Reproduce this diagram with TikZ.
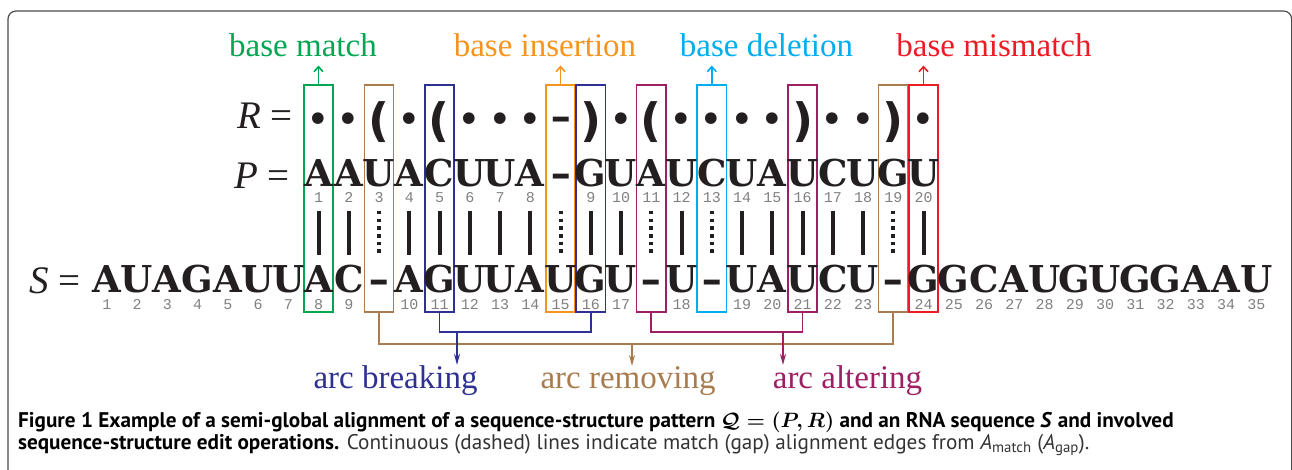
\documentclass[tikz,border=0pt]{standalone}
\usepackage{fontspec}
\setmainfont{Liberation Serif}
\newfontfamily\seqfont{DejaVu Serif}
\newfontfamily\numfont{Liberation Mono}
\newfontfamily\capfont{PT Sans}
\newfontfamily\symfont{DejaVu Sans}
\usetikzlibrary{arrows.meta}
\definecolor{cgreen}{HTML}{00A651}
\definecolor{cbrown}{HTML}{A87C4F}
\definecolor{cnavy}{HTML}{2E3192}
\definecolor{corange}{HTML}{F7941D}
\definecolor{cpurple}{HTML}{9E1F63}
\definecolor{ccyan}{HTML}{00AEEF}
\definecolor{cred}{HTML}{ED1C24}
\definecolor{ink}{HTML}{231F20}
\newcommand{\gapch}{\scalebox{1.4}[1]{-}}
\tikzset{
  colbox/.style={draw=#1, line width=1.6pt, minimum width=29.3pt, minimum height=227pt, inner sep=0pt},
  seq/.style={font=\seqfont\bfseries\fontsize{37}{37}\selectfont, text=ink, anchor=base, inner sep=0pt},
  num/.style={font=\numfont\fontsize{15}{15}\selectfont, text=black!50, inner sep=0pt, anchor=base},
  rdot/.style={font=\symfont\fontsize{40}{40}\selectfont, text=ink, inner sep=0pt},
  rpar/.style={font=\symfont\bfseries\fontsize{46}{46}\selectfont, text=ink, inner sep=0pt},
  bar/.style={line width=4pt, draw=ink},
  gapbar/.style={line width=4pt, draw=ink, dash pattern=on 3.5pt off 4.2pt},
  lab/.style={font=\fontsize{33}{33}\selectfont, anchor=base, inner xsep=0pt, inner ysep=0pt},
  eqlab/.style={font=\fontsize{39}{39}\selectfont, text=ink, anchor=base east, inner sep=0pt},
  upconn/.style={line width=1.6pt, -{Straight Barb[length=5pt,width=9pt,line width=1.6pt]}},
  brk/.style={line width=1.8pt},
  downconn/.style={line width=1.8pt, -{Stealth[length=11pt,width=6pt]}},
  captext/.style={font=\capfont\fontsize{21.2}{21.2}\selectfont, anchor=base west, inner sep=0pt}
}
\begin{document}
\begin{tikzpicture}[x=1pt,y=-1pt]
\useasboundingbox (0,0) rectangle (1292,470);
% frame
\draw[line width=1.2pt, black!70, rounded corners=8pt] (8,480) -- (8,11) -- (1291.6,11) -- (1291.6,480);
% boxes
\foreach \j/\c in {1/cgreen,3/cbrown,5/cnavy,9/corange,10/cnavy,12/cpurple,14/ccyan,17/cpurple,20/cbrown,21/cred}{
  \pgfmathsetmacro\xx{318.5+(\j-1)*30.25}
  \node[colbox=\c] (b\j) at (\xx,198.5) {};
}
% equation labels
\node[eqlab] (lR) at (293,129) {\textit{R} =};
\node[eqlab] (lP) at (290,189) {\textit{P} =};
\node[eqlab] (lS) at (81,293) {\textit{S} =};
% R row
\foreach \j in {1,2,4,6,7,8,11,13,14,15,16,18,19,21}{
  \pgfmathsetmacro\xx{318.5+(\j-1)*30.25}
  \node[rdot] (r\j) at (\xx,123) {•};
}
\foreach \j in {3,5,12}{
  \pgfmathsetmacro\xx{318.5+(\j-1)*30.25}
  \node[rpar] (r\j) at (\xx,122.5) {(};
}
\foreach \j in {10,17,20}{
  \pgfmathsetmacro\xx{318.5+(\j-1)*30.25}
  \node[rpar] (r\j) at (\xx,122.5) {)};
}
\node[seq, anchor=center] (r9) at (561.5,123) {\gapch};
% P row
\foreach \i/\j/\c in {1/1/A,2/2/A,3/3/U,4/4/A,5/5/C,6/6/U,7/7/U,8/8/A,9/10/G,10/11/U,11/12/A,12/13/U,13/14/C,14/15/U,15/16/A,16/17/U,17/18/C,18/19/U,19/20/G,20/21/U}{
  \pgfmathsetmacro\xx{318.5+(\j-1)*30.25}
  \node[seq] (p\i) at (\xx,187) {\c};
  \node[num] (pn\i) at (\xx,203) {\i};
}
\node[seq] (pg9) at (561.5,187) {\gapch};
% S row
\foreach \i/\j/\c in {1/-6/A,2/-5/U,3/-4/A,4/-3/G,5/-2/A,6/-1/U,7/0/U,8/1/A,9/2/C,10/4/A,11/5/G,12/6/U,13/7/U,14/8/A,15/9/U,16/10/G,17/11/U,18/13/U,19/15/U,20/16/A,21/17/U,22/18/C,23/19/U,24/21/G,25/22/G,26/23/C,27/24/A,28/25/U,29/26/G,30/27/U,31/28/G,32/29/G,33/30/A,34/31/A,35/32/U}{
  \pgfmathsetmacro\xx{318.5+(\j-1)*30.25}
  \node[seq] (s\i) at (\xx,292) {\c};
  \node[num] (sn\i) at (\xx,309) {\i};
}
\foreach \j in {3,12,14,20}{
  \pgfmathsetmacro\xx{318.5+(\j-1)*30.25}
  \node[seq] (sg\j) at (\xx,292) {\gapch};
}
% alignment edges
\foreach \j in {1,2,4,5,6,7,8,10,11,13,15,16,17,18,19,21}{
  \pgfmathsetmacro\xx{318.5+(\j-1)*30.25}
  \coordinate (et\j) at (\xx,211);
  \coordinate (eb\j) at (\xx,255);
  \draw[bar] (et\j) -- (eb\j);
}
\foreach \j in {3,9,12,14,20}{
  \pgfmathsetmacro\xx{318.5+(\j-1)*30.25}
  \coordinate (et\j) at (\xx,211);
  \coordinate (eb\j) at (\xx,255);
  \draw[gapbar] (et\j) -- (eb\j);
}
% top labels
\node[lab, text=cgreen, inner ysep=8pt] (lmatch) at (303,57) {base match};
\node[lab, text=corange, inner ysep=8pt] (lins) at (545,57) {base insertion};
\node[lab, text=ccyan, inner ysep=8pt] (ldel) at (766.5,57) {base deletion};
\node[lab, text=cred, inner ysep=8pt] (lmis) at (994,57) {base mismatch};
\draw[upconn, cgreen] (b1.north) -- (b1.north |- lmatch.south);
\draw[upconn, corange] (b9.north) -- (b9.north |- lins.south);
\draw[upconn, ccyan] (b14.north) -- (b14.north |- ldel.south);
\draw[upconn, cred] (b21.north) -- (b21.north |- lmis.south);
% bottom labels
\node[lab, text=cnavy] (lbrk) at (395.5,388) {arc breaking};
\node[lab, text=cbrown] (lrmv) at (628,388) {arc removing};
\node[lab, text=cpurple] (lalt) at (847.5,388) {arc altering};
\coordinate (jbrk) at (457,332);
\coordinate (jrmv) at (632,344);
\coordinate (jalt) at (783,332);
\draw[brk, cbrown] (b3.south) |- (jrmv) -| (b20.south);
\draw[brk, cnavy] (b5.south) |- (jbrk) -| (b10.south);
\draw[brk, cpurple] (b12.south) |- (jalt) -| (b17.south);
\draw[downconn, cbrown] (jrmv) -- (jrmv |- lrmv.north);
\draw[downconn, cnavy] (jbrk) -- (jbrk |- lbrk.north);
\draw[downconn, cpurple] (jalt) -- (jalt |- lalt.north);
% caption
\node[captext] (cap1) at (18,427) {\bfseries Figure 1 Example of a semi-global alignment of a sequence-structure pattern {\boldmath$\mathcal{Q}=(P,R)$} and an RNA sequence \textit{S} and involved};
\node[captext] (cap2) at (18,449) {{\bfseries sequence-structure edit operations.} \color{black!80}Continuous (dashed) lines indicate match (gap) alignment edges from \textit{A}\textsubscript{match} (\textit{A}\textsubscript{gap}).};
\end{tikzpicture}
\end{document}
